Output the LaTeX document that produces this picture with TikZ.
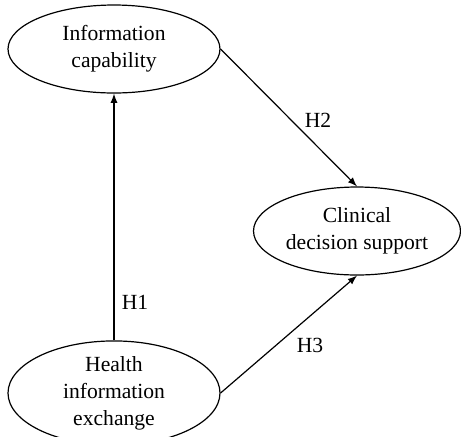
\documentclass[tikz,border=0pt]{standalone}
\usepackage{fontspec}
\setmainfont{Liberation Serif}
\usetikzlibrary{arrows,shapes.geometric}

\tikzset{
  construct/.style={draw,ellipse,line width=0.6pt,inner sep=0pt,
    minimum width=106pt,minimum height=44pt,align=center,
    font=\fontsize{10.8}{13.5}\selectfont},
  link/.style={draw,line width=0.6pt,-latex},
  hyp/.style={font=\fontsize{10.8}{13}\selectfont}
}

\begin{document}
\begin{tikzpicture}[x=0.5pt,y=-0.5pt]

  \useasboundingbox (0,0) rectangle (461,436);

  \node[construct] (info) at (114,49) {Information\\capability};
  \node[construct] (hie) at (114,393) {Health\\information\\exchange};
  \node[construct,minimum width=103.5pt] (cds) at (357,231) {Clinical\\decision support};

  \draw[link] (hie.north) -- (info.south);
  \draw[link] (info.east) -- (cds.north);
  \draw[link] (hie.east) -- (cds.south);

  \node[hyp] (h1) at (135,302) {H1};
  \node[hyp] (h2) at (318,120) {H2};
  \node[hyp] (h3) at (310,345) {H3};
\end{tikzpicture}
\end{document}
